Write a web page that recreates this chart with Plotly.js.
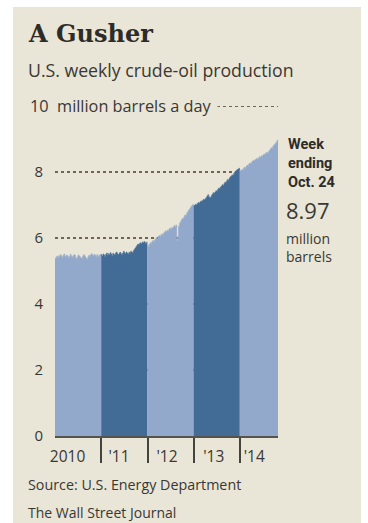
<!DOCTYPE html>
<html>
<head>
<meta charset="utf-8">
<script src="https://cdn.plot.ly/plotly-3.0.1.min.js"></script>
<style>
html,body{margin:0;padding:0;background:#ffffff;}
#chart{width:368px;height:523px;}
</style>
</head>
<body>
<div id="chart"></div>
<script>
// Weekly U.S. crude-oil production, million barrels a day (weeks ending Fridays from Jan. 8, 2010)
var years = ['2010', '2011', '2012', '2013', '2014'];
var yearLabels = ['2010', "'11", "'12", "'13", "'14"];
var yTickVals = [0, 2, 4, 6, 8, 10];
var yTickText = ['0', '2', '4', '6', '8', ''];

var prod2010 = [5.38,5.42,5.45,5.40,5.47,5.44,5.50,5.46,5.41,5.48,5.52,5.45,5.43,5.49,5.46,5.40,5.44,5.51,5.47,5.42,5.45,5.50,5.48,5.41,5.37,5.44,5.49,5.46,5.43,5.40,5.38,5.45,5.50,5.47,5.42,5.39,5.36,5.44,5.48,5.45,5.50,5.53,5.49,5.46,5.51,5.48,5.44,5.50,5.47,5.43,5.49,5.52];
var prod2011 = [5.50,5.46,5.52,5.49,5.44,5.51,5.55,5.48,5.53,5.50,5.56,5.52,5.47,5.54,5.51,5.49,5.55,5.58,5.52,5.50,5.54,5.57,5.53,5.49,5.55,5.60,5.56,5.52,5.58,5.55,5.51,5.57,5.54,5.60,5.58,5.55,5.62,5.66,5.70,5.74,5.78,5.82,5.80,5.84,5.86,5.83,5.88,5.85,5.90,5.87,5.84,5.88];
var prod2012 = [5.78,5.74,5.82,5.86,5.84,5.90,5.93,5.88,5.95,5.98,6.02,5.99,6.05,6.08,6.04,6.10,6.13,6.09,6.15,6.18,6.22,6.19,6.24,6.21,6.27,6.30,6.25,6.32,6.29,6.35,6.38,6.33,6.40,5.92,6.05,6.36,6.45,6.50,6.55,6.60,6.58,6.65,6.70,6.68,6.75,6.80,6.84,6.88,6.92,6.96,6.99,7.02];
var prod2013 = [6.98,7.00,7.03,7.01,7.05,7.08,7.06,7.10,7.13,7.11,7.15,7.18,7.16,7.20,7.23,7.28,7.32,7.26,7.22,7.25,7.30,7.34,7.38,7.36,7.40,7.44,7.42,7.48,7.52,7.50,7.55,7.58,7.62,7.60,7.65,7.70,7.68,7.74,7.78,7.76,7.82,7.86,7.88,7.92,7.90,7.96,8.00,8.03,8.06,8.08,8.10,8.12];
var prod2014 = [8.06,8.02,8.08,8.05,8.12,8.15,8.11,8.18,8.21,8.19,8.25,8.28,8.26,8.30,8.33,8.36,8.34,8.38,8.40,8.42,8.39,8.44,8.47,8.45,8.50,8.48,8.52,8.55,8.53,8.58,8.60,8.57,8.62,8.66,8.70,8.74,8.72,8.78,8.82,8.85,8.88,8.92,8.97];

var series = [prod2010, prod2011, prod2012, prod2013, prod2014];
var colors = ['#93a9cb', '#426b96', '#93a9cb', '#426b96', '#93a9cb'];

var DAY = 86400000;
var firstWeekEnd = Date.UTC(2010, 0, 8);
function iso(ms) { return new Date(ms).toISOString().slice(0, 10); }

var traces = [];
var w = 0;
for (var k = 0; k < series.length; k++) {
  var vals = series[k];
  var xs = [iso(firstWeekEnd + (w - 1) * 7 * DAY)];
  var ys = [vals[0]];
  for (var i = 0; i < vals.length; i++) {
    xs.push(iso(firstWeekEnd + (w + i) * 7 * DAY));
    ys.push(vals[i]);
  }
  w += vals.length;
  traces.push({
    type: 'scatter', mode: 'lines', x: xs, y: ys, name: years[k],
    line: {shape: 'vh', width: 0.5, color: colors[k]},
    fill: 'tozeroy', fillcolor: colors[k], hoverinfo: 'x+y'
  });
}

var BG = '#e9e5d7';
var INK = '#3a3833';
var L = 55, R = 278, T = 103, B = 436;
function px(x) { return (x - L) / (R - L); }
function py(y) { return (B - y) / (B - T); }

var sans = '"Open Sans", Roboto, "Liberation Sans", sans-serif';
var bold = 'Roboto, "Liberation Sans", sans-serif';

var layout = {
  width: 368, height: 523,
  margin: {l: L, r: 368 - R, t: T, b: 523 - B},
  paper_bgcolor: '#ffffff',
  plot_bgcolor: 'rgba(0,0,0,0)',
  showlegend: false,
  font: {family: sans, color: INK},
  xaxis: {
    type: 'date',
    range: ['2010-01-01', '2014-10-24'],
    tickmode: 'array',
    tickvals: ['2010-04-10', '2011-05-20', '2012-06-01', '2013-06-05', '2014-04-20'],
    ticktext: yearLabels,
    ticks: 'outside', ticklen: 5, tickcolor: 'rgba(0,0,0,0)',
    tickfont: {size: 15.5, color: INK, family: sans},
    showgrid: false, zeroline: false,
    showline: true, linecolor: '#55534d', linewidth: 2,
    layer: 'above traces',
    minor: {
      tickmode: 'array',
      tickvals: ['2011-01-01', '2012-01-01', '2013-01-01', '2014-01-01'],
      ticks: 'outside', ticklen: 25, tickwidth: 2, tickcolor: '#45433e', showgrid: false
    },
    fixedrange: true
  },
  yaxis: {
    range: [0, 10.1],
    tickmode: 'array', tickvals: yTickVals, ticktext: yTickText,
    ticks: 'outside', ticklen: 8, tickcolor: 'rgba(0,0,0,0)',
    tickfont: {size: 15, color: INK, family: sans},
    showgrid: true, gridcolor: '#6f6656', gridwidth: 1.5, griddash: 'dot',
    zeroline: false, showline: false,
    fixedrange: true
  },
  shapes: [
    {type: 'rect', xref: 'paper', yref: 'paper', layer: 'below',
     x0: px(13), x1: px(361), y0: py(523), y1: py(7),
     fillcolor: BG, line: {width: 0}}
  ],
  annotations: [
    {xref: 'paper', yref: 'paper', x: px(26), y: py(33), xanchor: 'left', yanchor: 'middle',
     text: '<b>A Gusher</b>', showarrow: false,
     font: {family: '"DejaVu Serif", serif', size: 24, color: '#2e2c28'}},
    {xref: 'paper', yref: 'paper', x: px(26), y: py(70), xanchor: 'left', yanchor: 'middle',
     text: 'U.S. weekly crude-oil production', showarrow: false,
     font: {family: sans, size: 17.7, color: INK}},
    {xref: 'paper', yref: 'y', x: px(27), y: 10, xanchor: 'left', yanchor: 'middle',
     text: '10  million barrels a day ', showarrow: false, bgcolor: BG, borderpad: 2,
     font: {family: sans, size: 16.3, color: INK}},
    {xref: 'paper', yref: 'paper', x: px(286), y: py(163), xanchor: 'left', yanchor: 'middle',
     text: '<b>Week<br>ending<br>Oct. 24</b>', showarrow: false, align: 'left',
     font: {family: bold, size: 14.5, color: '#2e2c28'}},
    {xref: 'paper', yref: 'paper', x: px(284), y: py(210), xanchor: 'left', yanchor: 'middle',
     text: '8.97', showarrow: false,
     font: {family: sans, size: 22, color: INK}},
    {xref: 'paper', yref: 'paper', x: px(284), y: py(247), xanchor: 'left', yanchor: 'middle',
     text: 'million<br>barrels', showarrow: false, align: 'left',
     font: {family: sans, size: 14, color: INK}},
    {xref: 'paper', yref: 'paper', x: px(26), y: py(485), xanchor: 'left', yanchor: 'middle',
     text: 'Source: U.S. Energy Department', showarrow: false,
     font: {family: sans, size: 14.3, color: INK}},
    {xref: 'paper', yref: 'paper', x: px(26), y: py(512), xanchor: 'left', yanchor: 'middle',
     text: 'The Wall Street Journal', showarrow: false,
     font: {family: sans, size: 14, color: INK}}
  ]
};

Plotly.newPlot('chart', traces, layout, {displayModeBar: false, staticPlot: true});
</script>
</body>
</html>
